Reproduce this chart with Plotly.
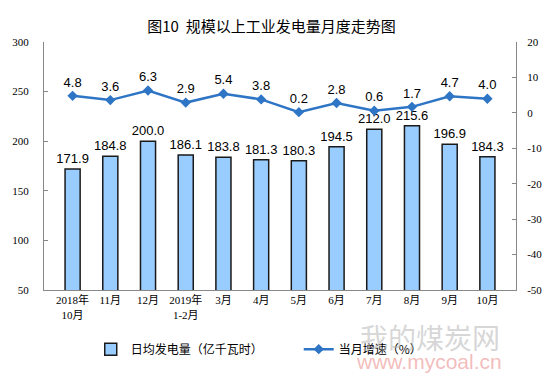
import plotly.graph_objects as go

categories = ["2018年<br>10月", "11月", "12月", "2019年<br>1-2月", "3月", "4月", "5月", "6月", "7月", "8月", "9月", "10月"]
daily_output = [171.9, 184.8, 200.0, 186.1, 183.8, 181.3, 180.3, 194.5, 212.0, 215.6, 196.9, 184.3]
growth = [4.8, 3.6, 6.3, 2.9, 5.4, 3.8, 0.2, 2.8, 0.6, 1.7, 4.7, 4.0]
left_ticks = [50, 100, 150, 200, 250, 300]
right_ticks = [-50, -40, -30, -20, -10, 0, 10, 20]
right_tick_text = [str(v) for v in right_ticks]

fig = go.Figure()
fig.add_trace(go.Bar(
    x=categories, y=daily_output, name="日均发电量（亿千瓦时）",
    marker=dict(color="#99CCFF", line=dict(color="#1a1a1a", width=1.5)),
    width=0.4,
    text=[f"{v:.1f}" for v in daily_output], textposition="outside",
    constraintext="none",
    textfont=dict(family="Liberation Sans, Arial", size=13, color="#000"),
    cliponaxis=False,
))
fig.add_trace(go.Scatter(
    x=categories, y=growth, name="当月增速（%）", yaxis="y2",
    mode="lines+markers+text",
    line=dict(color="#2E75C5", width=2.5),
    marker=dict(symbol="diamond", size=8, color="#2E75C5"),
    text=[f"{v:.1f}" for v in growth], textposition="top center",
    textfont=dict(family="Liberation Sans, Arial", size=13, color="#000"),
    cliponaxis=False,
))

fig.update_layout(
    width=554, height=381,
    margin=dict(l=38, r=38, t=42, b=91),
    paper_bgcolor="white", plot_bgcolor="white",
    title=dict(text="图10  规模以上工业发电量月度走势图", x=0.49, xanchor="center", y=0.93, yanchor="middle",
               font=dict(family="Noto Sans CJK SC", size=15, color="#000")),
    font=dict(family="Liberation Serif, Noto Sans CJK SC", size=11, color="#000"),
    showlegend=True,
    legend=dict(orientation="h", x=0.099, y=-0.18, xanchor="left", yanchor="top",
                font=dict(family="Noto Sans CJK SC", size=12, color="#000"),
                itemwidth=30, entrywidth=163),
    xaxis=dict(showline=True, linecolor="#888", linewidth=1, ticks="", showgrid=False,
               tickfont=dict(family="Liberation Serif, Noto Sans CJK SC", size=11)),
    yaxis=dict(range=[50, 300], tickvals=left_ticks, showline=True, linecolor="#888", linewidth=1,
               ticks="inside", ticklen=4, tickcolor="#888", showgrid=False, zeroline=False,
               ticklabelstandoff=12),
    yaxis2=dict(range=[-50, 20], tickvals=right_ticks, ticktext=right_tick_text, overlaying="y", side="right",
                showline=True, linecolor="#888", linewidth=1, ticks="inside", ticklen=4, tickcolor="#888",
                showgrid=False, zeroline=False, ticklabelstandoff=8),
)

fig.add_annotation(text="我的煤炭网", xref="paper", yref="paper", x=0.97, y=-0.10, xanchor="right", yanchor="top",
                   showarrow=False, font=dict(family="Noto Sans CJK SC", size=28, color="rgba(180,180,180,0.55)"))
fig.add_annotation(text="www.mycoal.cn", xref="paper", yref="paper", x=0.975, y=-0.235, xanchor="right", yanchor="top",
                   showarrow=False, font=dict(family="Liberation Sans", size=21, color="rgba(235,150,150,0.65)"))

fig.write_html("out.html", config={"displayModeBar": False},
               post_script="document.body.style.margin='0';document.body.style.padding='0';")
